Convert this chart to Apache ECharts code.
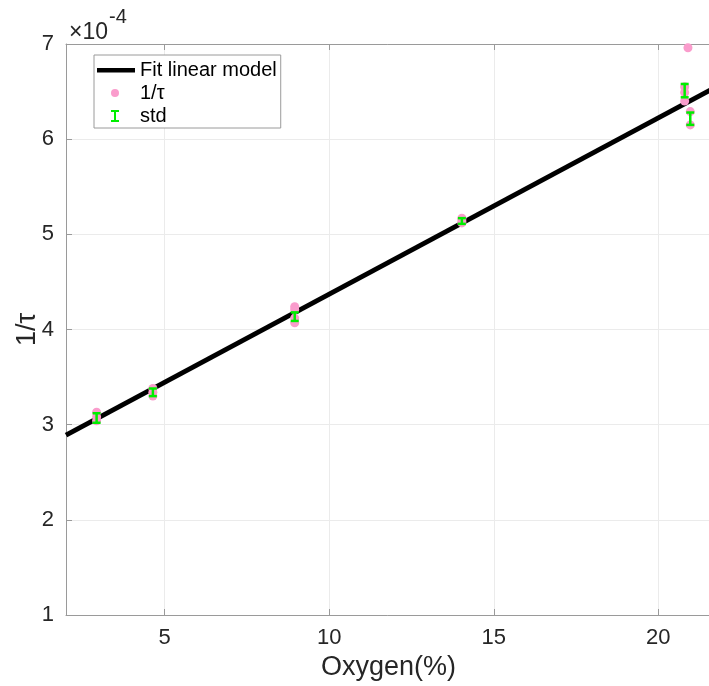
<!DOCTYPE html>
<html>
<head>
<meta charset="utf-8">
<script src="https://cdn.jsdelivr.net/npm/echarts@6/dist/echarts.min.js"></script>
<style>
html,body{margin:0;padding:0;background:#fff;}
#chart{width:709px;height:686px;}
</style>
</head>
<body>
<div id="chart"></div>
<script>
// Data (values in units of 1e-4)
const pointsX = [2.93, 2.93, 2.93, 4.64, 4.64, 4.64, 8.95, 8.95, 8.95, 8.95, 14.03, 14.03, 14.03, 20.8, 20.8, 20.8, 20.9, 20.97, 20.97];
const pointsY = [3.13, 3.08, 3.04, 3.38, 3.34, 3.30, 4.24, 4.21, 4.12, 4.07, 5.17, 5.14, 5.12, 6.55, 6.49, 6.40, 6.96, 6.29, 6.15];
const stdX = [2.93, 4.64, 8.95, 14.03, 20.8, 20.97];
const stdMean = [3.07, 3.34, 4.135, 5.14, 6.51, 6.215];
const stdDev = [0.05, 0.04, 0.045, 0.03, 0.07, 0.065];
const fitX = [2, 21.6];
const fitY = [2.89, 6.52];
const xTicks = [5, 10, 15, 20];
const yTicks = [1, 2, 3, 4, 5, 6, 7];

const FONT = 'Liberation Sans';
const chart = echarts.init(document.getElementById('chart'));

const pad = 'M0,0 M38,0 M38,14 M0,14 ';
const option = {
  animation: false,
  backgroundColor: '#ffffff',
  grid: { left: 66, right: -2, top: 44, bottom: 71, containLabel: false, outerBoundsMode: 'none' },
  xAxis: [{
    type: 'value', min: 2, max: 21.6, position: 'bottom',
    name: 'Oxygen(%)', nameLocation: 'middle', nameGap: 37,
    nameTextStyle: { fontFamily: FONT, fontSize: 27, color: '#262626' },
    axisLine: { show: true, onZero: false, lineStyle: { color: '#9a9a9a', width: 1 } },
    axisTick: { show: true, inside: true, length: 6, customValues: xTicks, lineStyle: { color: '#9a9a9a' } },
    axisLabel: { customValues: xTicks, fontFamily: FONT, fontSize: 22, color: '#262626', margin: 12 },
    splitLine: { show: true, lineStyle: { color: '#ebebeb', width: 1 } }
  }, {
    type: 'value', min: 2, max: 21.6, position: 'top',
    axisLine: { show: true, onZero: false, lineStyle: { color: '#9a9a9a', width: 1 } },
    axisTick: { show: true, inside: true, length: 6, customValues: xTicks, lineStyle: { color: '#9a9a9a' } },
    axisLabel: { show: false },
    splitLine: { show: false }
  }],
  yAxis: [{
    type: 'value', min: 1, max: 7, interval: 1,
    name: '1/τ', nameLocation: 'middle', nameGap: 25, nameRotate: 90, nameMoveOverlap: false,
    nameTextStyle: { fontFamily: FONT, fontSize: 27, color: '#262626' },
    axisLine: { show: true, onZero: false, lineStyle: { color: '#9a9a9a', width: 1 } },
    axisTick: { show: true, inside: true, length: 6, lineStyle: { color: '#9a9a9a' } },
    axisLabel: { fontFamily: FONT, fontSize: 22, color: '#262626', margin: 12,
      formatter: v => (yTicks.indexOf(v) >= 0 ? String(v) : '') },
    splitLine: { show: true, lineStyle: { color: '#ebebeb', width: 1 } }
  }],
  legend: {
    orient: 'vertical', left: 94, top: 55,
    backgroundColor: '#ffffff', borderColor: '#9a9a9a', borderWidth: 1, borderRadius: 0,
    padding: [5, 4, 2, 3], itemGap: 3, itemWidth: 38, itemHeight: 14,
    textStyle: { fontFamily: FONT, fontSize: 20, lineHeight: 20, color: '#000' },
    data: [
      { name: 'Fit linear model', icon: 'path://' + pad + 'M0,5 L38,5 L38,9.5 L0,9.5 Z', itemStyle: { color: '#000' } },
      { name: '1/τ', icon: 'path://' + pad + 'M14,7 A4,4 0 1,0 22,7 A4,4 0 1,0 14,7 Z', itemStyle: { color: '#fa9ccc' } },
      { name: 'std', icon: 'path://' + pad + 'M14,1 L22,1 L22,3 L19,3 L19,11 L22,11 L22,13 L14,13 L14,11 L17,11 L17,3 L14,3 Z', itemStyle: { color: '#00ee00' } }
    ]
  },
  graphic: [{
    type: 'text', left: 69, top: 21,
    style: { text: '×10', fontFamily: FONT, fontSize: 23, fill: '#262626' }
  }, {
    type: 'text', left: 109, top: 7,
    style: { text: '-4', fontFamily: FONT, fontSize: 20, fill: '#262626' }
  }],
  series: [{
    name: 'Fit linear model', type: 'line', xAxisIndex: 0, yAxisIndex: 0,
    data: fitX.map((x, i) => [x, fitY[i]]),
    showSymbol: false, symbol: 'none',
    lineStyle: { color: '#000', width: 5 }, itemStyle: { color: '#000' }, z: 2
  }, {
    name: '1/τ', type: 'scatter', xAxisIndex: 0, yAxisIndex: 0,
    data: pointsX.map((x, i) => [x, pointsY[i]]),
    symbol: 'circle', symbolSize: 9,
    itemStyle: { color: '#fa9ccc', opacity: 1 }, z: 3
  }, {
    name: 'std', type: 'custom', xAxisIndex: 0, yAxisIndex: 0,
    data: stdX.map((x, i) => [x, stdMean[i], stdDev[i]]),
    itemStyle: { color: '#00ee00' }, z: 4,
    renderItem: function (params, api) {
      const x = api.value(0), m = api.value(1), s = api.value(2);
      const t = api.coord([x, m + s]);
      const b = api.coord([x, m - s]);
      const hw = 4;
      const st = { stroke: '#00ee00', lineWidth: 2.5 };
      return {
        type: 'group', children: [
          { type: 'line', shape: { x1: t[0], y1: t[1], x2: b[0], y2: b[1] }, style: st },
          { type: 'line', shape: { x1: t[0] - hw, y1: t[1], x2: t[0] + hw, y2: t[1] }, style: st },
          { type: 'line', shape: { x1: b[0] - hw, y1: b[1], x2: b[0] + hw, y2: b[1] }, style: st }
        ]
      };
    }
  }]
};
chart.setOption(option);
</script>
</body>
</html>
